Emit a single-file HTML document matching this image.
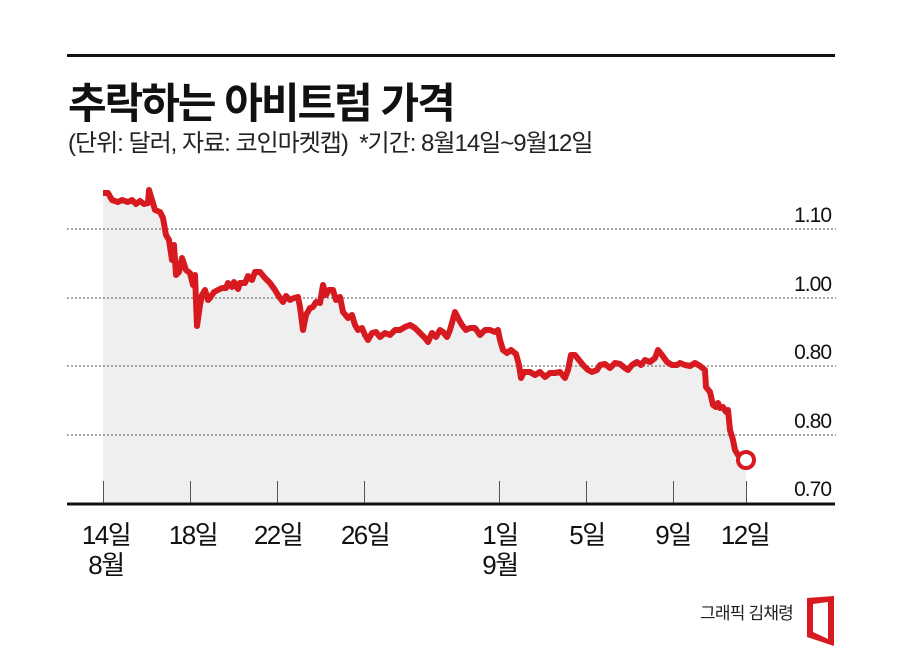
<!DOCTYPE html>
<html><head><meta charset="utf-8"><style>
html,body{margin:0;padding:0;background:#fff;}
body{width:901px;height:665px;position:relative;overflow:hidden;font-family:"Liberation Sans","Noto Sans CJK KR",sans-serif;}
.t{position:absolute;white-space:nowrap;color:#111;}
</style></head><body>
<div style="position:absolute;left:67px;top:54px;width:768px;height:3px;background:#111"></div>
<div class="t" style="left:68px;top:70px;font-size:42px;font-weight:bold;letter-spacing:-2px">추락하는 아비트럼 가격</div>
<div class="t" style="left:68px;top:123px;font-size:24px;letter-spacing:-1px;color:#222">(단위: 달러, 자료: 코인마켓캡) &nbsp;*기간: 8월14일~9월12일</div>
<svg width="901" height="665" style="position:absolute;left:0;top:0">
<polygon fill="#efefef" points="103,193 108,193 112,200 118,202 122,200 128,202 132,200 136,204 140,201 144,204 148,203 149,190 152,200 155,210 160,212 163,218 166,235 169,240 172,260 174,245 176,275 179,272 182,258 186,270 190,273 193,285 195,275 197,326 200,305 202,295 205,290 208,300 210,298 214,292 218,290 222,288 226,288 228,283 232,287 234,282 238,289 240,283 245,283 248,276 252,280 255,272 260,272 265,278 270,283 275,290 278,295 280,298 283,302 286,296 290,300 294,298 298,297 300,307 303,330 306,315 310,308 313,307 316,302 320,303 323,285 326,295 329,290 333,290 336,300 340,297 343,312 348,318 352,315 355,325 358,330 362,328 365,335 368,340 372,333 376,332 380,337 385,333 390,335 395,330 400,330 405,327 410,325 415,328 420,333 425,338 428,342 432,333 436,337 440,330 443,332 447,337 450,330 455,312 458,318 462,325 466,330 470,328 475,328 480,335 485,330 490,330 495,332 498,330 500,340 503,350 507,353 511,350 516,354 519,365 521,378 524,372 530,372 535,375 540,372 545,377 550,373 555,373 560,372 565,378 568,370 571,355 575,355 579,360 583,365 588,370 592,372 597,370 600,365 605,364 610,368 615,363 620,364 625,368 628,370 632,365 637,362 641,365 645,360 650,362 655,358 658,350 662,355 667,362 672,365 677,365 680,363 685,365 690,366 695,363 700,366 705,370 706,387 710,392 713,405 716,407 718,403 720,408 723,407 726,412 728,410 730,430 733,440 735,450 738,455 746,459 746,504 103,504"/>
<g stroke="#555" stroke-width="1" stroke-dasharray="2,2">
<line x1="67" y1="229" x2="836" y2="229"/><line x1="67" y1="298" x2="836" y2="298"/>
<line x1="67" y1="366" x2="836" y2="366"/><line x1="67" y1="435" x2="836" y2="435"/>
</g>
<g stroke="#555" stroke-width="1">
<line x1="103.5" y1="481" x2="103.5" y2="503"/><line x1="190.5" y1="481" x2="190.5" y2="503"/>
<line x1="277.5" y1="481" x2="277.5" y2="503"/><line x1="364.5" y1="481" x2="364.5" y2="503"/>
<line x1="499.5" y1="481" x2="499.5" y2="503"/><line x1="586.5" y1="481" x2="586.5" y2="503"/>
<line x1="673.5" y1="481" x2="673.5" y2="503"/><line x1="746.5" y1="481" x2="746.5" y2="503"/>
</g>
<line x1="67" y1="504" x2="835" y2="504" stroke="#111" stroke-width="3"/>
<polyline fill="none" stroke="#d71920" stroke-width="6" stroke-linejoin="round" points="103,193 108,193 112,200 118,202 122,200 128,202 132,200 136,204 140,201 144,204 148,203 149,190 152,200 155,210 160,212 163,218 166,235 169,240 172,260 174,245 176,275 179,272 182,258 186,270 190,273 193,285 195,275 197,326 200,305 202,295 205,290 208,300 210,298 214,292 218,290 222,288 226,288 228,283 232,287 234,282 238,289 240,283 245,283 248,276 252,280 255,272 260,272 265,278 270,283 275,290 278,295 280,298 283,302 286,296 290,300 294,298 298,297 300,307 303,330 306,315 310,308 313,307 316,302 320,303 323,285 326,295 329,290 333,290 336,300 340,297 343,312 348,318 352,315 355,325 358,330 362,328 365,335 368,340 372,333 376,332 380,337 385,333 390,335 395,330 400,330 405,327 410,325 415,328 420,333 425,338 428,342 432,333 436,337 440,330 443,332 447,337 450,330 455,312 458,318 462,325 466,330 470,328 475,328 480,335 485,330 490,330 495,332 498,330 500,340 503,350 507,353 511,350 516,354 519,365 521,378 524,372 530,372 535,375 540,372 545,377 550,373 555,373 560,372 565,378 568,370 571,355 575,355 579,360 583,365 588,370 592,372 597,370 600,365 605,364 610,368 615,363 620,364 625,368 628,370 632,365 637,362 641,365 645,360 650,362 655,358 658,350 662,355 667,362 672,365 677,365 680,363 685,365 690,366 695,363 700,366 705,370 706,387 710,392 713,405 716,407 718,403 720,408 723,407 726,412 728,410 730,430 733,440 735,450 738,455 742,458"/>
<circle cx="746" cy="460" r="8" fill="#fff" stroke="#d71920" stroke-width="4"/>
<g font-size="21" fill="#111" text-anchor="end" letter-spacing="-1">
<text x="831" y="222">1.10</text><text x="831" y="291">1.00</text><text x="831" y="359">0.80</text>
<text x="831" y="428">0.80</text><text x="831" y="496">0.70</text>
</g>
<g font-size="26" fill="#111" text-anchor="middle" letter-spacing="-1.5">
<text x="106" y="544">14일</text><text x="106" y="574">8월</text>
<text x="193" y="544">18일</text><text x="278" y="544">22일</text><text x="365" y="544">26일</text>
<text x="500" y="544">1일</text><text x="500" y="574">9월</text>
<text x="587" y="544">5일</text><text x="673" y="544">9일</text><text x="745" y="544">12일</text>
</g>
<text x="793" y="619" font-size="17" fill="#222" text-anchor="end" letter-spacing="-0.8">그래픽 김채령</text>
<polygon fill="#d71920" fill-rule="evenodd" points="807,598 834,596 834,646 807,637 807,598 813,604 813,632 828,639 828,602 813,604"/>
</svg>
</body></html>
